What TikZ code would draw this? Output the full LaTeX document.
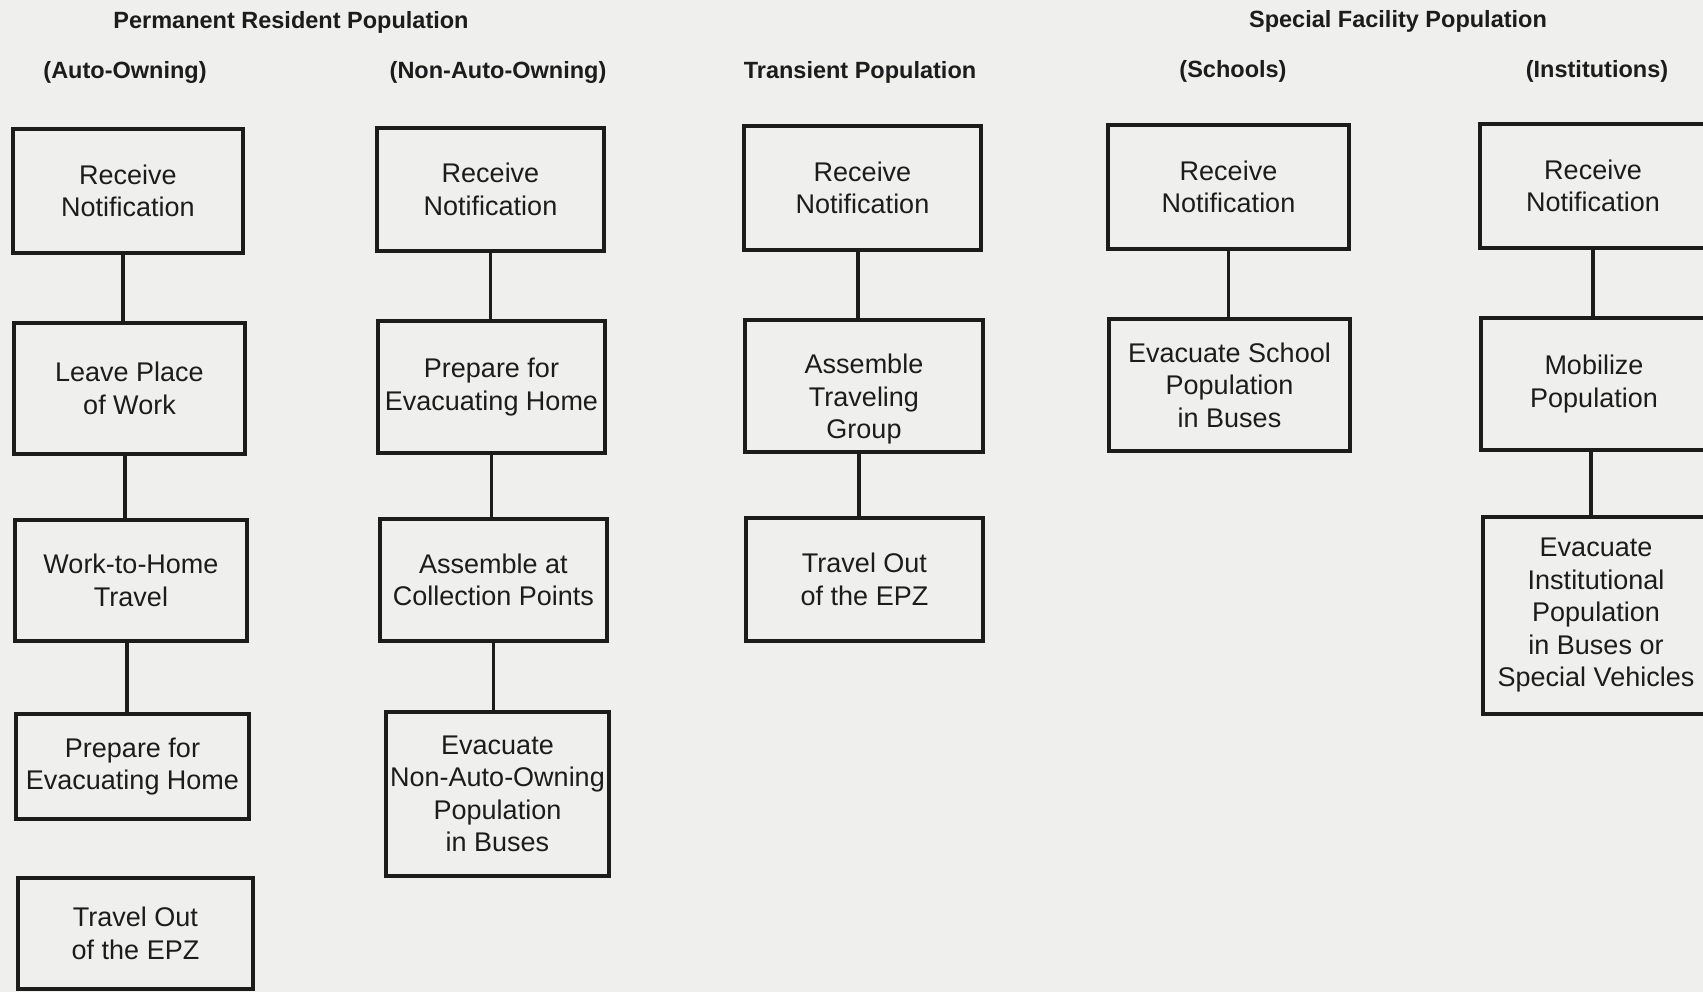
\documentclass[tikz,border=0pt]{standalone}
\usepackage{fontspec}
\setmainfont{Liberation Sans}
\definecolor{paper}{HTML}{EFEFEE}
\definecolor{ink}{HTML}{1C1C1C}
\begin{document}
\begin{tikzpicture}[x=1pt,y=-1pt,
  stepbox/.style={draw=ink,line width=3.3pt,inner sep=0pt,align=center,text=ink,
    font=\fontsize{27}{32.5}\selectfont},
  head/.style={text=ink,font=\fontsize{23.5}{28}\selectfont\bfseries,inner sep=0pt},
  link/.style={draw=ink,line width=3.3pt}]
\fill[paper] (0,0) rectangle (1703,992);
\useasboundingbox (0,0) rectangle (1703,992);
\clip (0,0) rectangle (1703,992);
% headers
\node[head] (hperm) at (291,22) {Permanent Resident Population};
\node[head] (hspec) at (1398,21) {Special Facility Population};
\node[head] (hauto) at (125,72) {(Auto-Owning)};
\node[head] (hnon) at (498,72) {(Non-Auto-Owning)};
\node[head] (htrans) at (860,72) {Transient Population};
\node[head] (hsch) at (1233,71) {(Schools)};
\node[head] (hinst) at (1597,71) {(Institutions)};
% column 1
\node[stepbox,minimum width=230pt,minimum height=124pt] (c1a) at (128,191) {Receive\\Notification};
\node[stepbox,minimum width=231pt,minimum height=131pt] (c1b) at (129.5,388.5) {Leave Place\\of Work};
\node[stepbox,minimum width=232pt,minimum height=121pt] (c1c) at (131,580.5) {Work-to-Home\\Travel};
\node[stepbox,minimum width=233pt,minimum height=105pt] (c1d) at (132.5,766.5) {Prepare for\\Evacuating Home};
\node[stepbox,minimum width=235pt,minimum height=111pt] (c1e) at (135.5,933.5) {Travel Out\\of the EPZ};
% column 2
\node[stepbox,minimum width=227pt,minimum height=123pt] (c2a) at (490.5,189.5) {Receive\\Notification};
\node[stepbox,minimum width=227pt,minimum height=132pt] (c2b) at (491.5,387) {Prepare for\\Evacuating Home};
\node[stepbox,minimum width=227pt,minimum height=122pt] (c2c) at (493.5,580) {Assemble at\\Collection Points};
\node[stepbox,minimum width=223pt,minimum height=164pt] (c2d) at (497.5,794) {Evacuate\\Non-Auto-Owning\\Population\\in Buses};
% column 3
\node[stepbox,minimum width=237pt,minimum height=124pt] (c3a) at (862.5,188) {Receive\\Notification};
\node[stepbox,minimum width=238pt,minimum height=132pt] (c3b) at (864,386) {\rule{0pt}{46pt}Assemble\\Traveling\\Group};
\node[stepbox,minimum width=237pt,minimum height=123pt] (c3c) at (864.5,579.5) {Travel Out\\of the EPZ};
% column 4
\node[stepbox,minimum width=241pt,minimum height=124pt] (c4a) at (1228.5,187) {Receive\\Notification};
\node[stepbox,minimum width=241pt,minimum height=132pt] (c4b) at (1229.5,385) {Evacuate School\\Population\\in Buses};
% column 5
\node[stepbox,minimum width=226pt,minimum height=124pt] (c5a) at (1593,186) {Receive\\Notification};
\node[stepbox,minimum width=226pt,minimum height=132pt] (c5b) at (1594,384) {Mobilize\\Population};
\node[stepbox,minimum width=226pt,minimum height=197pt] (c5c) at (1596,615.5) {Evacuate\\Institutional\\Population\\in Buses or\\Special Vehicles};
% connectors
\draw[link] ([xshift=-5pt]c1a.south) -- ([xshift=-5pt]c1a.south |- c1b.north);
\draw[link] ([xshift=-4.5pt]c1b.south) -- ([xshift=-4.5pt]c1b.south |- c1c.north);
\draw[link] ([xshift=-4pt]c1c.south) -- ([xshift=-4pt]c1c.south |- c1d.north);
\draw[link] (c2a.south) -- (c2a.south |- c2b.north);
\draw[link] (c2b.south) -- (c2b.south |- c2c.north);
\draw[link] (c2c.south) -- (c2c.south |- c2d.north);
\draw[link] ([xshift=-4.5pt]c3a.south) -- ([xshift=-4.5pt]c3a.south |- c3b.north);
\draw[link] ([xshift=-5pt]c3b.south) -- ([xshift=-5pt]c3b.south |- c3c.north);
\draw[link] (c4a.south) -- (c4a.south |- c4b.north);
\draw[link] (c5a.south) -- (c5a.south |- c5b.north);
\draw[link] ([xshift=-3pt]c5b.south) -- ([xshift=-3pt]c5b.south |- c5c.north);
\end{tikzpicture}
\end{document}
